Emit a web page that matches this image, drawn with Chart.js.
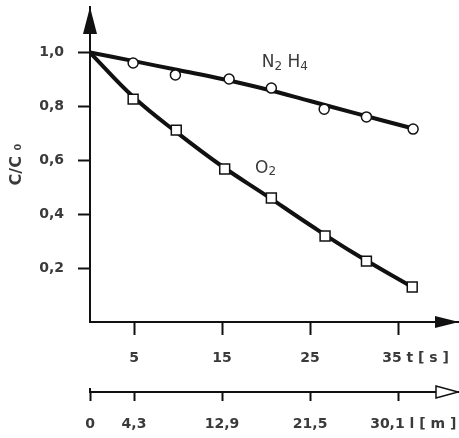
<!DOCTYPE html>
<html>
<head>
<meta charset="utf-8">
<script src="https://cdn.jsdelivr.net/npm/chart.js@4/dist/chart.umd.min.js"></script>
<style>
  html, body { margin: 0; padding: 0; background: #fff; }
</style>
</head>
<body>
<canvas id="decay-chart" width="459" height="438"></canvas>
<script>
// tick values
const timeTicks = [5, 15, 25, 35];            // t [s]
const distTicks = [0, 4.3, 12.9, 21.5, 30.1]; // l [m]
const yTicks = [0.2, 0.4, 0.6, 0.8, 1.0];
const timeUnit = 't [ s ]';
const distUnit = 'l [ m ]';

// measured points, C/C0 over t [s]
const n2h4T = [4.9, 9.7, 15.8, 20.6, 26.6, 31.4, 36.7];
const n2h4C = [0.961, 0.917, 0.902, 0.868, 0.790, 0.761, 0.716];
const o2T = [4.9, 9.8, 15.3, 20.6, 26.7, 31.4, 36.6];
const o2C = [0.827, 0.712, 0.568, 0.460, 0.319, 0.226, 0.130];

// fitted curves
const n2h4FitT = [0, 5, 10, 15, 20, 25, 30, 36.7];
const n2h4FitC = [1.0, 0.968, 0.935, 0.902, 0.864, 0.82, 0.776, 0.718];
const o2FitT = [0, 5, 10, 15, 20, 25, 30, 36.6];
const o2FitC = [1.0, 0.833, 0.70, 0.578, 0.47, 0.36, 0.255, 0.13];

// curve names (text, subscript) and where they sit in data units
const n2h4Name = [['N', '2'], [' H', '4']];
const o2Name = [['O', '2']];
const n2h4NameAt = [19.5, 0.961];
const o2NameAt = [18.75, 0.571];

const pts = (xs, ys) => xs.map((x, i) => ({ x: x, y: ys[i] }));
const FONT = 'DejaVu Sans';
const INK = '#111';
const TEXT = '#3a3a3a';
const tickFont = { family: FONT, size: 14, weight: 'bold' };
const lastTime = timeTicks[timeTicks.length - 1];
const lastDist = distTicks[distTicks.length - 1];
const comma = v => String(v).replace('.', ',');

const noPad = s => { s.paddingLeft = 0; s.paddingRight = 0; s.paddingTop = 0; s.paddingBottom = 0; };

const extras = {
  id: 'extras',
  afterDraw(chart) {
    const { ctx, chartArea: a, scales } = chart;
    ctx.save();
    ctx.fillStyle = INK;
    // y arrow
    ctx.beginPath();
    ctx.moveTo(a.left, a.top);
    ctx.lineTo(a.left - 7, a.top + 27);
    ctx.lineTo(a.left + 7, a.top + 27);
    ctx.closePath();
    ctx.fill();
    // time axis arrow
    ctx.beginPath();
    ctx.moveTo(a.right + 1, a.bottom);
    ctx.lineTo(a.right - 23, a.bottom - 6);
    ctx.lineTo(a.right - 23, a.bottom + 6);
    ctx.closePath();
    ctx.fill();
    // distance axis arrow (hollow)
    const y2 = scales.x2.top;
    ctx.beginPath();
    ctx.moveTo(a.right, y2);
    ctx.lineTo(a.right - 22, y2 - 6);
    ctx.lineTo(a.right - 22, y2 + 6);
    ctx.closePath();
    ctx.fillStyle = '#fff';
    ctx.fill();
    ctx.strokeStyle = INK;
    ctx.lineWidth = 1.5;
    ctx.stroke();
    // 0 tick of the distance axis also reaches above the line
    ctx.lineWidth = 2;
    ctx.beginPath();
    ctx.moveTo(scales.x2.getPixelForValue(0), y2 - 4);
    ctx.lineTo(scales.x2.getPixelForValue(0), y2);
    ctx.stroke();

    // last tick labels carry the unit, set off to the right like the original
    ctx.fillStyle = TEXT;
    ctx.font = 'bold 14px "' + FONT + '"';
    ctx.textBaseline = 'middle';
    ctx.textAlign = 'left';
    ctx.fillText(comma(lastTime) + ' ' + timeUnit, scales.x.getPixelForValue(lastTime) - 16, scales.x.top + 36);
    ctx.fillText(comma(lastDist) + ' ' + distUnit, scales.x2.getPixelForValue(lastDist) - 28, scales.x2.top + 32);

    // curve names with subscripts
    const name = (parts, at) => {
      let x = scales.x.getPixelForValue(at[0]);
      const y = scales.y.getPixelForValue(at[1]);
      parts.forEach(p => {
        ctx.font = '17px "' + FONT + '"';
        ctx.fillText(p[0], x, y);
        x += ctx.measureText(p[0]).width;
        ctx.font = '12px "' + FONT + '"';
        ctx.fillText(p[1], x, y + 4);
        x += ctx.measureText(p[1]).width;
      });
    };
    name(n2h4Name, n2h4NameAt);
    name(o2Name, o2NameAt);
    ctx.restore();
  }
};

new Chart(document.getElementById('decay-chart'), {
  type: 'scatter',
  data: {
    datasets: [
      {
        label: 'N2H4',
        data: pts(n2h4T, n2h4C),
        pointStyle: 'circle',
        pointRadius: 5,
        pointBackgroundColor: '#fff',
        pointBorderColor: INK,
        pointBorderWidth: 1.5
      },
      {
        label: 'O2',
        data: pts(o2T, o2C),
        pointStyle: 'rect',
        pointRadius: 7,
        pointBackgroundColor: '#fff',
        pointBorderColor: INK,
        pointBorderWidth: 1.5
      },
      {
        label: 'N2H4 fit',
        data: pts(n2h4FitT, n2h4FitC),
        showLine: true,
        borderColor: INK,
        borderWidth: 4,
        pointRadius: 0,
        tension: 0.4
      },
      {
        label: 'O2 fit',
        data: pts(o2FitT, o2FitC),
        showLine: true,
        borderColor: INK,
        borderWidth: 4,
        pointRadius: 0,
        tension: 0.4
      }
    ]
  },
  options: {
    responsive: false,
    animation: false,
    layout: { autoPadding: false, padding: { top: 7, right: 1, bottom: 0, left: 0 } },
    plugins: {
      legend: { display: false },
      tooltip: { enabled: false }
    },
    scales: {
      x: {
        type: 'linear',
        position: 'bottom',
        weight: 0,
        min: 0,
        max: 41.8,
        afterBuildTicks: s => { s.ticks = timeTicks.map(v => ({ value: v })); },
        afterFit: s => { s.height = 70; noPad(s); },
        grid: { drawOnChartArea: false, tickLength: 13, tickColor: INK, tickWidth: 2 },
        border: { display: true, color: INK, width: 2 },
        ticks: {
          color: TEXT,
          font: tickFont,
          padding: 15,
          autoSkip: false,
          maxRotation: 0,
          callback: v => v === lastTime ? '' : comma(v)
        }
      },
      x2: {
        type: 'linear',
        position: 'bottom',
        weight: 1,
        min: 0,
        max: 41.8 * 0.86,
        afterBuildTicks: s => { s.ticks = distTicks.map(v => ({ value: v })); },
        afterFit: s => { s.height = 46; noPad(s); },
        grid: { drawOnChartArea: false, tickLength: 9, tickColor: INK, tickWidth: 2 },
        border: { display: true, color: INK, width: 2 },
        ticks: {
          color: TEXT,
          font: tickFont,
          padding: 15,
          autoSkip: false,
          maxRotation: 0,
          callback: v => v === lastDist ? '' : comma(v)
        }
      },
      y: {
        type: 'linear',
        min: 0,
        max: 1.169,
        afterBuildTicks: s => { s.ticks = yTicks.map(v => ({ value: v })); },
        afterFit: s => { s.width = 90; noPad(s); },
        grid: { drawOnChartArea: false, tickLength: 12, tickColor: INK, tickWidth: 2 },
        border: { display: true, color: INK, width: 2 },
        ticks: {
          color: TEXT,
          font: tickFont,
          padding: 14,
          callback: v => v.toFixed(1).replace('.', ',')
        },
        title: {
          display: true,
          text: 'C/C ₀',
          color: TEXT,
          font: { family: FONT, size: 16, weight: 'bold' },
          padding: { top: 7, bottom: 0 }
        }
      }
    }
  },
  plugins: [extras]
});
</script>
</body>
</html>
